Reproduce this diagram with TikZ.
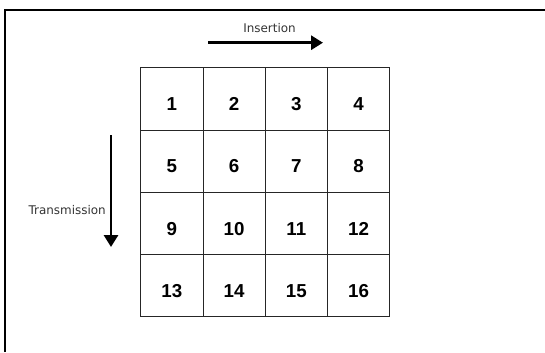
\documentclass[tikz,border=0pt]{standalone}
\usepackage{fontspec}
\setmainfont{Liberation Sans}
\newfontfamily\labelfont{DejaVu Sans}
\usetikzlibrary{arrows.meta, positioning, calc}

\tikzset{
    cell/.style={draw=black!85, line width=0.7pt, minimum size=1.8675cm, inner sep=0pt,
        text height=20pt, text depth=0pt, font=\fontsize{16}{19}\selectfont\bfseries},
    dirlabel/.style={text=black!80, inner sep=0pt, font=\labelfont\fontsize{10.2}{12}\selectfont},
    dirarrow/.style={line width=2.5pt, -{Triangle[length=0.36cm, width=0.42cm]}},
}

\begin{document}
\begin{tikzpicture}[x=0.03cm, y=-0.03cm]
    \useasboundingbox (0, 0) rectangle (545, 352);
    \draw[line width=1.2pt] (5, 352) -- (5, 10) -- (545, 10);

    % the 4x4 block
    \node[cell] (c1)  at (171.8, 98.8)   {1};
    \node[cell] (c2)  at (234.05, 98.8)  {2};
    \node[cell] (c3)  at (296.3, 98.8)   {3};
    \node[cell] (c4)  at (358.55, 98.8)  {4};
    \node[cell] (c5)  at (171.8, 161.05) {5};
    \node[cell] (c6)  at (234.05, 161.05) {6};
    \node[cell] (c7)  at (296.3, 161.05) {7};
    \node[cell] (c8)  at (358.55, 161.05) {8};
    \node[cell] (c9)  at (171.8, 223.3)  {9};
    \node[cell] (c10) at (234.05, 223.3) {10};
    \node[cell] (c11) at (296.3, 223.3)  {11};
    \node[cell] (c12) at (358.55, 223.3) {12};
    \node[cell] (c13) at (171.8, 285.55) {13};
    \node[cell] (c14) at (234.05, 285.55) {14};
    \node[cell] (c15) at (296.3, 285.55) {15};
    \node[cell] (c16) at (358.55, 285.55) {16};

    % directions
    \coordinate (insA) at (208, 42.7);
    \coordinate (insB) at (323, 42.7);
    \coordinate (trA) at (111, 135);
    \coordinate (trB) at (111, 247);
    \node[dirlabel, anchor=base] (ins) at (269.5, 32.3) {Insertion};
    \node[dirlabel, anchor=base east] (tr) at (106, 214) {Transmission};

    \draw[dirarrow] (insA) -- (insB);
    \draw[dirarrow] (trA) -- (trB);
\end{tikzpicture}
\end{document}
